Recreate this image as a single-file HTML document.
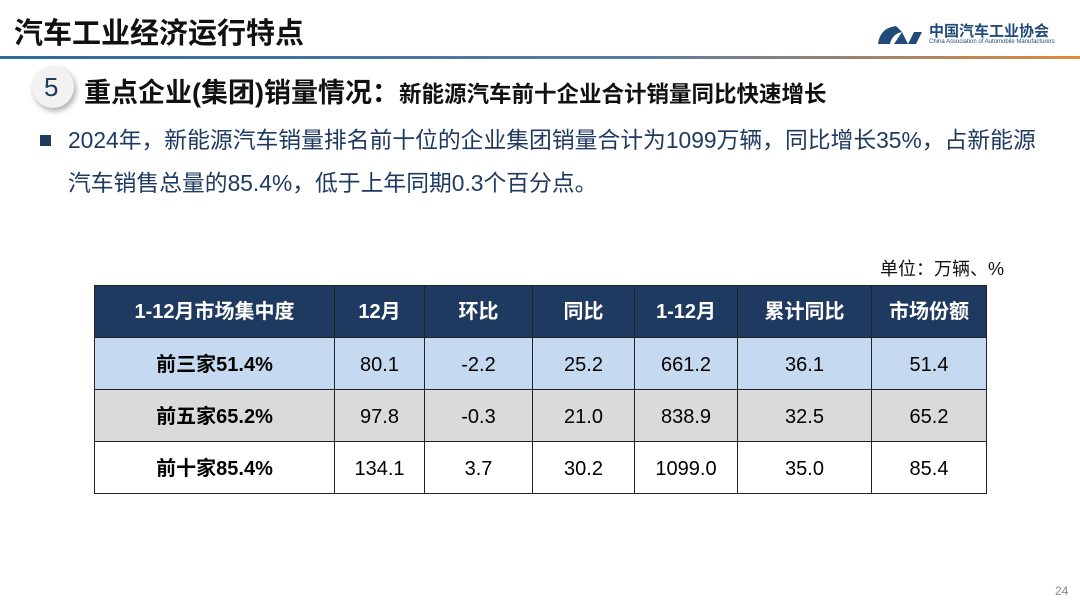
<!DOCTYPE html>
<html><head><meta charset="utf-8"><style>
body{margin:0;width:1080px;height:607px;background:#fff;position:relative;overflow:hidden;font-family:"Liberation Sans","Noto Sans CJK SC",sans-serif;}
.t{position:absolute;white-space:nowrap}
table{position:absolute;left:94px;top:285px;border-collapse:collapse;font-size:20px;}
td{border:1.5px solid #222;text-align:center;padding:2px 0 0 0;height:49px;vertical-align:middle;line-height:24px}
tr.h td{background:#1f3a60;color:#fff;font-weight:bold;padding:0}
tr.r1 td{background:#c5daf0}
tr.r2 td{background:#dadada}
tr.r3 td{background:#fff}
td.b{font-weight:bold;padding-top:2px}
</style></head><body>
<div class="t" style="left:14px;top:10px;font-size:29px;font-weight:bold;color:#111">汽车工业经济运行特点</div>
<div style="position:absolute;left:0;top:56px;width:1080px;height:3px;background:linear-gradient(90deg,#2f6aa0 0%,#5a7da0 60%,#e08a3a 100%)"></div>
<svg style="position:absolute;left:876px;top:22px" width="52" height="26"><path d="M20 4 Q4 6 2 22 L14 22 Q16 12 26 10Z" fill="#1f4a7a"/><path d="M18 22 L26 10 L32 22 L38 10 L46 10 L40 22Z" fill="#1f4a7a"/></svg>
<div class="t" style="left:929px;top:20px;font-size:15px;font-weight:bold;color:#1f4a7a">中国汽车工业协会</div>
<div class="t" style="left:929px;top:39px;font-size:6px;color:#1f4a7a">China Association of Automobile Manufacturers</div>
<div style="position:absolute;left:32px;top:66px;width:42px;height:42px;border-radius:50%;background:#f2f2f2;box-shadow:2px 3px 6px #aaa"></div>
<div class="t" style="left:44px;top:72px;font-size:26px;color:#1f3a60">5</div>
<div class="t" style="left:84px;top:71px;font-size:27px;font-weight:bold;color:#111">重点企业(集团)销量情况：<span style="font-size:22.5px">新能源汽车前十企业合计销量同比快速增长</span></div>
<div style="position:absolute;left:40px;top:135px;width:11px;height:11px;background:#1f3a60"></div>
<div class="t" style="left:68px;top:119px;font-size:22.8px;color:#1f3a60;line-height:43px">2024年，新能源汽车销量排名前十位的企业集团销量合计为1099万辆，同比增长35%，占新能源<br>汽车销售总量的85.4%，低于上年同期0.3个百分点。</div>
<div class="t" style="left:880px;top:255px;font-size:18px;color:#111">单位：万辆、%</div>
<table>
<tr class="h"><td style="width:239px;height:51px">1-12月市场集中度</td><td style="width:89px">12月</td><td style="width:107px">环比</td><td style="width:101px">同比</td><td style="width:102px">1-12月</td><td style="width:133px">累计同比</td><td style="width:114px">市场份额</td></tr>
<tr class="r1"><td class="b">前三家51.4%</td><td>80.1</td><td>-2.2</td><td>25.2</td><td>661.2</td><td>36.1</td><td>51.4</td></tr>
<tr class="r2"><td class="b">前五家65.2%</td><td>97.8</td><td>-0.3</td><td>21.0</td><td>838.9</td><td>32.5</td><td>65.2</td></tr>
<tr class="r3"><td class="b">前十家85.4%</td><td>134.1</td><td>3.7</td><td>30.2</td><td>1099.0</td><td>35.0</td><td>85.4</td></tr>
</table>
<div class="t" style="left:1055px;top:584px;font-size:12px;color:#888">24</div>
</body></html>
